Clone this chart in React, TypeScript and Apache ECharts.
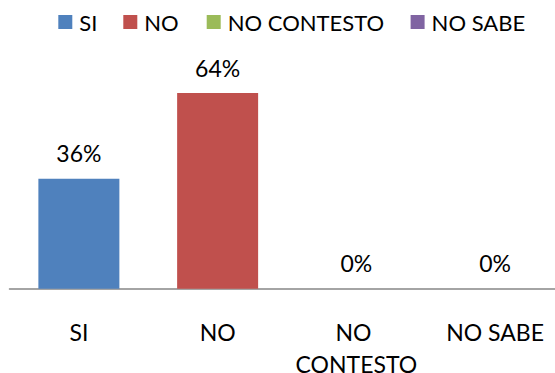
import React, { useEffect, useRef } from "react";
import * as echarts from "echarts";

const categories = ["SI", "NO", "NO CONTESTO", "NO SABE"];
const values = [36, 64, 0, 0];
const colors = ["#4F81BD", "#C0504D", "#9BBB59", "#8064A2"];

const FONT = "Lato";
const legendLeft = [58.3, 123.3, 206.7, 410.6];

export default function App() {
  const ref = useRef<HTMLDivElement>(null);
  useEffect(() => {
    if (!ref.current) return;
    const chart = echarts.init(ref.current, null, { renderer: "svg" });
    const series = categories.map((name, i) => ({
      name,
      type: "bar",
      stack: "all",
      barWidth: 81,
      itemStyle: { color: colors[i] },
      data: categories.map((_, j) => (j === i ? values[i] : "-")),
      label: {
        show: true,
        position: "top",
        distance: 14,
        formatter: "{c}%",
        color: "#000",
        fontFamily: FONT,
        fontSize: 23,
      },
    }));
    const legends = categories.map((name, i) => ({
      data: [name],
      left: legendLeft[i],
      top: 8,
      padding: 0,
      itemWidth: 14,
      itemHeight: 14,
      icon: "rect",
      selectedMode: false,
      textStyle: {
        color: "#000",
        fontFamily: FONT,
        fontSize: 22,
        lineHeight: 28,
        padding: [0, 0, 0, 2],
      },
    }));
    chart.setOption({
      animation: false,
      legend: legends,
      grid: {
        left: 9.5,
        right: -9.5,
        top: 74.7,
        bottom: 84.3,
        containLabel: false,
        outerBoundsMode: "none",
      },
      xAxis: {
        type: "category",
        data: categories,
        axisLine: { show: true, lineStyle: { color: "#868686", width: 1.5 } },
        axisTick: { show: false },
        axisLabel: {
          color: "#000",
          fontFamily: FONT,
          fontSize: 23,
          lineHeight: 31.7,
          margin: 27.5,
          width: 130,
          overflow: "break",
          interval: 0,
        },
      },
      yAxis: {
        type: "value",
        min: 0,
        max: 70,
        show: false,
        splitLine: { show: false },
      },
      series,
    });
    return () => chart.dispose();
  }, []);
  return (
    <div
      ref={ref}
      style={{ position: "fixed", left: 0, top: 0, width: 555, height: 373, background: "#fff" }}
    />
  );
}
